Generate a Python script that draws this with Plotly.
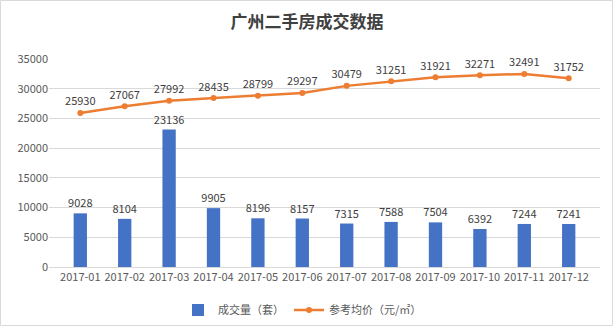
import plotly.graph_objects as go

months = ["2017-01", "2017-02", "2017-03", "2017-04", "2017-05", "2017-06",
          "2017-07", "2017-08", "2017-09", "2017-10", "2017-11", "2017-12"]
volume = [9028, 8104, 23136, 9905, 8196, 8157, 7315, 7588, 7504, 6392, 7244, 7241]
avg_price = [25930, 27067, 27992, 28435, 28799, 29297, 30479, 31251, 31921, 32271, 32491, 31752]
y_ticks = [0, 5000, 10000, 15000, 20000, 25000, 30000, 35000]

W, H = 614, 329
ML, MR, MT, MB = 49, 14, 59, 62
FONT = "Noto Sans CJK SC, Microsoft YaHei, sans-serif"

fig = go.Figure()
fig.add_trace(go.Bar(
    x=months, y=volume, name="成交量（套）",
    marker=dict(color="#4472C4", line=dict(width=0)),
    text=[str(v) for v in volume], textposition="outside",
    textfont=dict(size=11, color="#404040"), cliponaxis=False,
    constraintext="none",
))
fig.add_trace(go.Scatter(
    x=months, y=avg_price, name="参考均价（元/㎡）", mode="lines+markers+text",
    line=dict(color="#ED7D31", width=2.5),
    marker=dict(color="#ED7D31", size=6),
    text=[str(v) for v in avg_price], textposition="top center",
    textfont=dict(size=11, color="#404040"), cliponaxis=False,
))

pw = W - ML - MR
ph = H - MT - MB
fig.update_layout(
    width=W, height=H,
    margin=dict(l=ML, r=MR, t=MT, b=MB, autoexpand=False),
    paper_bgcolor="white", plot_bgcolor="white",
    font=dict(family=FONT, size=11, color="#595959"),
    title=dict(text="<b>广州二手房成交数据</b>", x=0.5, xanchor="center",
               y=1 - 22 / H, yanchor="middle",
               font=dict(size=17, color="#404040", family=FONT)),
    bargap=0.7,
    uniformtext=dict(minsize=11, mode="show"),
    showlegend=True,
    legend=dict(orientation="h", x=0.5 - 22 / pw, xanchor="center",
                y=-(310 - (H - MB)) / ph, yanchor="middle",
                font=dict(size=11, color="#595959")),
    xaxis=dict(type="category", showgrid=False, showline=True, linecolor="#D9D9D9",
               linewidth=1, ticks="", automargin=False,
               tickfont=dict(size=11, color="#595959")),
    yaxis=dict(range=[0, 35000], tickvals=y_ticks, tickformat="d", showgrid=True,
               gridcolor="#D9D9D9", gridwidth=1, zeroline=False, showline=False,
               ticks="", automargin=False, tickfont=dict(size=11, color="#595959")),
    shapes=[dict(type="rect", xref="paper", yref="paper",
                 x0=-(ML - 0.5) / pw, x1=(W - ML - 1.5) / pw,
                 y0=-(MB - 3.5) / ph, y1=(H - MB - 0.5) / ph,
                 line=dict(color="#D9D9D9", width=1), layer="below")],
)

fig.write_html("out.html")
